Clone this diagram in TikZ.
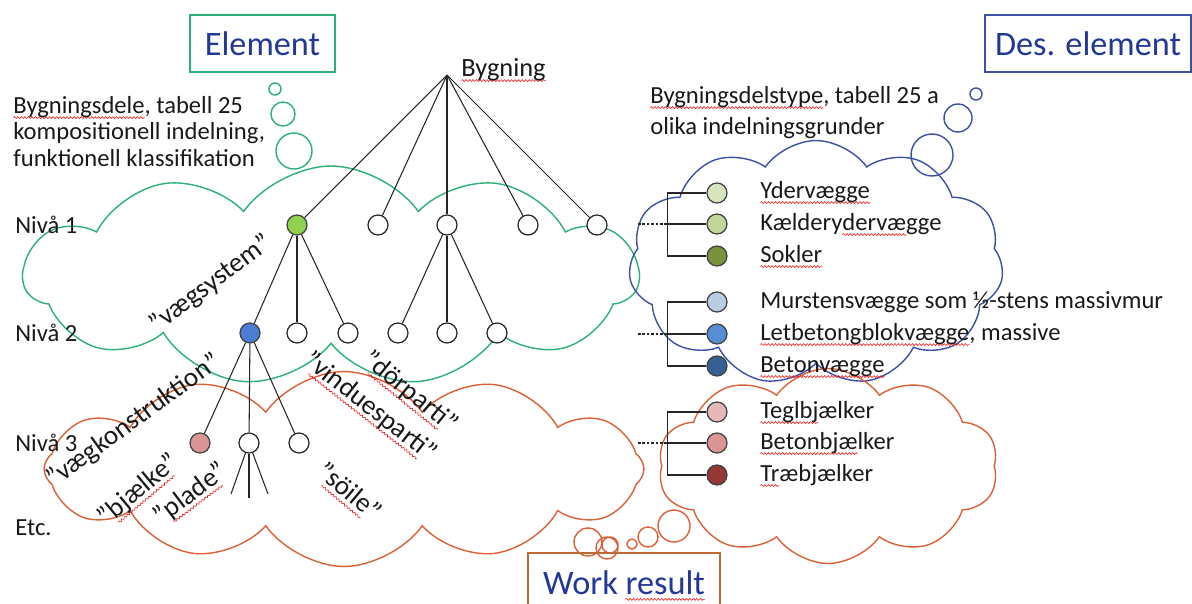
\documentclass[tikz,border=0pt]{standalone}
\usepackage{fontspec}
\setmainfont{Carlito}
\usetikzlibrary{shapes.symbols,decorations.pathmorphing}

\definecolor{cgreen}{RGB}{45,175,120}
\definecolor{cblue}{RGB}{60,80,165}
\definecolor{cred}{RGB}{220,95,55}
\definecolor{cbox}{RGB}{190,105,55}
\definecolor{ctitle}{RGB}{35,55,150}
\definecolor{txt}{RGB}{25,25,25}
\definecolor{spellred}{RGB}{230,30,30}
\definecolor{nGreen}{RGB}{146,208,80}
\definecolor{nBlue}{RGB}{75,125,210}
\definecolor{nPink}{RGB}{217,150,148}
\definecolor{gA}{RGB}{215,228,189}
\definecolor{gB}{RGB}{195,214,155}
\definecolor{gC}{RGB}{119,147,60}
\definecolor{bA}{RGB}{185,205,229}
\definecolor{bB}{RGB}{85,142,213}
\definecolor{bC}{RGB}{55,96,146}
\definecolor{rA}{RGB}{230,185,184}
\definecolor{rB}{RGB}{217,150,148}
\definecolor{rC}{RGB}{149,55,53}

% red wavy underline for words flagged by the spell checker
\newlength\spellw
\newcommand\spell[1]{\setbox0\hbox{#1}\setlength\spellw{\wd0}\leavevmode\rlap{\tikz[overlay,baseline=0pt]\draw[spellred, line width=0.35pt, decorate, decoration={snake, amplitude=0.55pt, segment length=2pt}] (0pt,-2.6pt) -- (\spellw,-2.6pt);}\box0}

\tikzset{
  tline/.style={draw=black!85, line width=0.6pt},
  leaf/.style={circle, draw=black!85, line width=0.7pt, fill=white, minimum size=0.4cm, inner sep=0pt},
  fdot/.style={leaf, fill=#1, draw=black!75},
  puffy/.style={cloud, cloud ignores aspect, draw=#1, line width=0.8pt},
  bubble/.style={circle, draw=#1, line width=0.8pt, inner sep=0pt},
  lbl/.style={anchor=base west, inner sep=0pt, text=txt, font=\fontsize{14}{15}\selectfont},
  quote/.style={inner sep=0pt, text=txt, font=\fontsize{15.5}{17}\selectfont},
  titlebox/.style={draw=#1, line width=0.9pt, text=ctitle, font=\fontsize{19.5}{22}\selectfont, inner sep=0pt},
  brk/.style={draw=black!85, line width=0.7pt},
  dashlead/.style={draw=black!85, line width=0.7pt, dash pattern=on 1.5pt off 1pt}
}

\begin{document}
\begin{tikzpicture}[x=0.02cm, y=-0.02cm]
\useasboundingbox (0,0) rectangle (1192,603);

% ---------- clouds ----------
\node[puffy=cgreen, cloud puffs=11, cloud puff arc=110, minimum width=12.3cm, minimum height=4.4cm] (gcloud) at (331,276) {};
\node[puffy=cblue, cloud puffs=11, cloud puff arc=110, minimum width=7.5cm, minimum height=4.9cm] (bcloud) at (816,263) {};
\node[puffy=cred, cloud puffs=12, cloud puff arc=110, minimum width=12cm, minimum height=3.9cm] (rcloudL) at (344,469) {};
\node[puffy=cred, cloud puffs=10, cloud puff arc=110, minimum width=6.8cm, minimum height=3.9cm] (rcloudR) at (828,466) {};

% thought bubbles
\node[bubble=cgreen, minimum size=0.24cm] (gb1) at (275,89) {};
\node[bubble=cgreen, minimum size=0.48cm] (gb2) at (283,114) {};
\node[bubble=cgreen, minimum size=0.72cm] (gb3) at (294,151) {};
\node[bubble=cblue, minimum size=0.24cm] (bb1) at (976,94) {};
\node[bubble=cblue, minimum size=0.56cm] (bb2) at (958,118) {};
\node[bubble=cblue, minimum size=0.84cm] (bb3) at (932,155) {};
\node[bubble=cred, minimum size=0.2cm] (rb1) at (632,544) {};
\node[bubble=cred, minimum size=0.32cm] (rb2) at (610,545) {};
\node[bubble=cred, minimum size=0.44cm] (rb3) at (607,548) {};
\node[bubble=cred, minimum size=0.56cm] (rb4) at (588,542) {};
\node[bubble=cred, minimum size=0.4cm] (rb5) at (648,537) {};
\node[bubble=cred, minimum size=0.64cm] (rb6) at (674,526) {};

% ---------- title boxes ----------
\node[titlebox=cgreen, minimum width=2.9cm, minimum height=1.14cm] (tEl) at (262.5,43.5) {Element};
\node[titlebox=cblue, minimum width=4.12cm, minimum height=1.14cm] (tDes) at (1088,43.5) {Des. element};
\node[titlebox=cbox, minimum width=3.84cm, minimum height=1.2cm] (tWork) at (624,583) {Work \spell{result}};

% ---------- descriptions ----------
\node[lbl] (d1) at (13,113) {\spell{Bygningsdele}, tabell 25};
\node[lbl] (d2) at (13,139) {kompositionell indelning,};
\node[lbl] (d3) at (13,166) {funktionell klassifikation};
\node[lbl] (e1) at (650,103) {\spell{Bygningsdelstype}, tabell 25 a};
\node[lbl] (e2) at (650,134) {olika indelningsgrunder};

\node[lbl] (lv1) at (15,233) {Nivå 1};
\node[lbl] (lv2) at (15,341) {Nivå 2};
\node[lbl] (lv3) at (15,451) {Nivå 3};
\node[lbl] (lv4) at (15,535) {Etc.};

% ---------- tree ----------
\coordinate (root) at (447,75);
\node[lbl, font=\fontsize{15}{17}\selectfont] (tRoot) at (461,76) {\spell{Bygning}};

\node[fdot=nGreen] (a1) at (297,225) {};
\node[leaf] (a2) at (378,225) {};
\node[leaf] (a3) at (447,225) {};
\node[leaf] (a4) at (528,225) {};
\node[leaf] (a5) at (597,225) {};
\foreach \n in {a1,a2,a3,a4,a5} \draw[tline] (root) -- (\n);

\node[fdot=nBlue] (b1) at (250,333) {};
\node[leaf] (b2) at (297,333) {};
\node[leaf] (b3) at (348,333) {};
\node[leaf] (b4) at (398,333) {};
\node[leaf] (b5) at (447,333) {};
\node[leaf] (b6) at (497,333) {};
\foreach \n in {b1,b2,b3} \draw[tline] (a1) -- (\n);
\foreach \n in {b4,b5,b6} \draw[tline] (a3) -- (\n);

\node[fdot=nPink] (c1) at (200,443) {};
\node[leaf] (c2) at (249,443) {};
\node[leaf] (c3) at (299,443) {};
\foreach \n in {c1,c2,c3} \draw[tline] (b1) -- (\n);

\coordinate (f1) at (231,494);
\coordinate (f2) at (249,498);
\coordinate (f3) at (268,494);
\foreach \n in {f1,f2,f3} \draw[tline] (c2) -- (\n);

% ---------- quoted names ----------
\node[quote, rotate=37] (q1) at (211,284) {”vægsystem”};
\node[quote, rotate=36] (q2) at (134,421) {”vægkonstruktion”};
\node[quote, rotate=40] (q3) at (139,490) {”\spell{bjælke}”};
\node[quote, rotate=37] (q4) at (191,494) {”\spell{plade}”};
\node[quote, rotate=-38] (q5) at (370,407) {”\spell{vinduesparti}”};
\node[quote, rotate=-39] (q6) at (410,392) {”\spell{dörparti}”};
\node[quote, rotate=-40] (q7) at (350,491) {”\spell{söile}”};

% ---------- type lists ----------
\node[fdot=gA] (r1) at (717,193) {};
\node[fdot=gB] (r2) at (717,224) {};
\node[fdot=gC] (r3) at (717,256) {};
\node[fdot=bA] (r4) at (717,302) {};
\node[fdot=bB] (r5) at (717,334) {};
\node[fdot=bC] (r6) at (717,366) {};
\node[fdot=rA] (r7) at (717,412) {};
\node[fdot=rB] (r8) at (717,443) {};
\node[fdot=rC] (r9) at (717,475) {};

\coordinate (k1) at (638,224);
\coordinate (k2) at (638,334);
\coordinate (k3) at (638,443);
\draw[dashlead] (k1) -- ++(30,0);
\draw[dashlead] (k2) -- ++(30,0);
\draw[dashlead] (k3) -- ++(30,0);
\draw[brk] (r1.west) -- ++(-39,0) |- (r3.west);
\draw[brk] (r2.west) -- ++(-39,0);
\draw[brk] (r4.west) -- ++(-39,0) |- (r6.west);
\draw[brk] (r5.west) -- ++(-39,0);
\draw[brk] (r7.west) -- ++(-39,0) |- (r9.west);
\draw[brk] (r8.west) -- ++(-39,0);

\node[lbl] (t1) at (760,198) {\spell{Ydervægge}};
\node[lbl] (t2) at (760,230) {Kældery\spell{dervæ}gge};
\node[lbl] (t3) at (760,262) {\spell{Sokler}};
\node[lbl] (t4) at (760,308) {Murstensvægge som ½-stens massivmur};
\node[lbl] (t5) at (760,340) {\spell{Letbetongblokvægge}, massive};
\node[lbl] (t6) at (760,372) {\spell{Betonvægge}};
\node[lbl] (t7) at (760,418) {\spell{Teglbj}ælker};
\node[lbl] (t8) at (760,449) {\spell{Betonbjæ}lker};
\node[lbl] (t9) at (760,481) {\spell{Tr}æbjælker};
\end{tikzpicture}
\end{document}
